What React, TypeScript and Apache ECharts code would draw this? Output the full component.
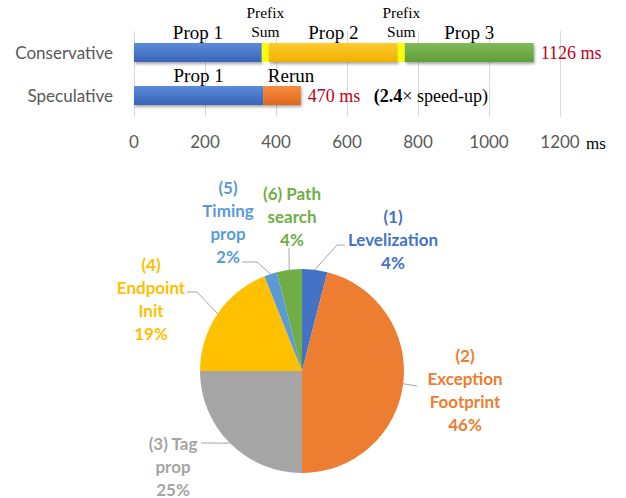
import React, { useEffect, useRef } from 'react';
import * as echarts from 'echarts';

// ---- Bar chart data ----
const barCategories = ['Conservative', 'Speculative'];
const prop1 = [360, 364];
const prefixSum1: (number | null)[] = [20, null];
const prop2: (number | null)[] = [363, null];
const prefixSum2: (number | null)[] = [20, null];
const prop3: (number | null)[] = [363, null];
const rerun: (number | null)[] = [null, 106];
const xMin = 0;
const xMax = 1200;
const xInterval = 200;
const xUnit = 'ms';

// ---- Pie chart data ----
const pieNames = [
  '(1)\nLevelization',
  '(2)\nException\nFootprint',
  '(3) Tag\nprop',
  '(4)\nEndpoint\nInit',
  '(5)\nTiming\nprop',
  '(6) Path\nsearch',
];
const pieValues = [4, 46, 25, 19, 2, 4];
const pieColors = ['#4472C4', '#ED7D31', '#A5A5A5', '#FFC000', '#5B9BD5', '#70AD47'];

// label placement (layout only)
const pieLabelLayout = [
  { x: 393, y: 239, line: [[337, 245], [345, 245]] },
  { x: 465, y: 390, line: [[417, 386]] },
  { x: 173, y: 466, line: [[201, 443]] },
  { x: 151, y: 299, line: [[197, 292], [187, 292]] },
  { x: 228, y: 222, line: [[257, 262], [242, 262]] },
  { x: 292, y: 216, line: [[289, 248]] },
];

const SERIF = '"Liberation Serif", "Times New Roman", serif';
const SANS = 'Lato, "Open Sans", sans-serif';

const grad = (top: string, bottom: string) =>
  new echarts.graphic.LinearGradient(0, 0, 0, 1, [
    { offset: 0, color: top },
    { offset: 1, color: bottom },
  ]);

const num = (v: number | null) => (v == null ? 0 : v);
const totals = barCategories.map(
  (_, i) =>
    num(prop1[i]) + num(prefixSum1[i]) + num(prop2[i]) + num(prefixSum2[i]) + num(prop3[i]) + num(rerun[i])
);

export default function App() {
  const ref = useRef<HTMLDivElement>(null);
  useEffect(() => {
    if (!ref.current) return;
    const chart = echarts.init(ref.current, undefined, { renderer: 'svg' });

    const shadow = {
      shadowColor: 'rgba(0,0,0,0.35)',
      shadowBlur: 3,
      shadowOffsetX: 1,
      shadowOffsetY: 2,
    };
    const nameLabel = (text: string, extra: any = {}) => ({
      show: true,
      position: 'top',
      distance: 1,
      formatter: (p: any) => (p.value == null || p.value === '-' ? '' : text),
      fontFamily: SERIF,
      fontSize: 19,
      lineHeight: 19,
      color: '#000',
      ...extra,
    });
    const prefixLabel = nameLabel('Prefix\nSum', { fontSize: 15.5, lineHeight: 19, distance: 2 });

    const barSeries: any[] = [
      {
        name: 'Prop 1',
        data: prop1,
        itemStyle: { color: grad('#5C8BD8', '#3864BA'), ...shadow },
        label: nameLabel('Prop 1'),
      },
      {
        name: 'Prefix Sum 1',
        data: prefixSum1,
        itemStyle: { color: '#FFFF00' },
        label: prefixLabel,
      },
      {
        name: 'Prop 2',
        data: prop2,
        itemStyle: { color: grad('#FFCB2E', '#EFB100'), ...shadow },
        label: nameLabel('Prop 2'),
      },
      {
        name: 'Prefix Sum 2',
        data: prefixSum2,
        itemStyle: { color: '#FFFF00' },
        label: prefixLabel,
      },
      {
        name: 'Prop 3',
        data: prop3,
        itemStyle: { color: grad('#80BB58', '#5F9D3A'), ...shadow },
        label: nameLabel('Prop 3'),
      },
      {
        name: 'Rerun',
        data: rerun,
        itemStyle: { color: grad('#F68C40', '#E0691E'), ...shadow },
        label: nameLabel('Rerun', { offset: [9, 0] }),
      },
      {
        name: 'Total',
        data: barCategories.map(() => 0),
        itemStyle: { color: 'transparent' },
        label: {
          show: true,
          position: 'right',
          distance: 7,
          formatter: (p: any) => {
            const i = p.dataIndex;
            const base = `{r|${totals[i]} ${xUnit}}`;
            if (i === 0) return base;
            const speed = (totals[0] / totals[i]).toFixed(1);
            return `${base}{n|   }{b|(${speed}}{n|× speed-up)}`;
          },
          rich: {
            r: { color: '#C00020', fontFamily: SERIF, fontSize: 18 },
            n: { color: '#000', fontFamily: SERIF, fontSize: 18 },
            b: { color: '#000', fontFamily: SERIF, fontSize: 18, fontWeight: 'bold' },
          },
        },
      },
    ].map((s) => ({
      ...s,
      type: 'bar',
      stack: 'time',
      barWidth: 19,
      xAxisIndex: 0,
      yAxisIndex: 0,
      silent: true,
    }));

    chart.setOption({
      animation: false,
      backgroundColor: '#fff',
      grid: [{ left: 134, width: 426, top: 31, height: 86 }],
      xAxis: [
        {
          type: 'value',
          min: xMin,
          max: xMax,
          interval: xInterval,
          axisLine: { show: false },
          axisTick: { show: false },
          axisLabel: {
            color: '#595959',
            fontSize: 17,
            fontFamily: SANS,
            margin: 16,
            formatter: (v: number) => String(v),
          },
          splitLine: { show: true, lineStyle: { color: '#D9D9D9', width: 1 } },
        },
      ],
      yAxis: [
        {
          type: 'category',
          data: barCategories,
          inverse: true,
          axisLine: { show: false },
          axisTick: { show: false },
          axisLabel: { color: '#595959', fontSize: 17, fontFamily: SANS, margin: 21 },
        },
      ],
      graphic: [
        {
          type: 'text',
          x: 586,
          y: 143,
          style: {
            text: xUnit,
            fontFamily: SERIF,
            fontSize: 17,
            fill: '#000',
            verticalAlign: 'middle',
          },
        },
      ],
      series: [
        ...barSeries,
        {
          type: 'pie',
          center: [302, 371],
          radius: 102,
          startAngle: 90,
          clockwise: true,
          silent: true,
          avoidLabelOverlap: false,
          data: pieNames.map((n, i) => ({
            name: n,
            value: pieValues[i],
            itemStyle: { color: pieColors[i] },
            label: { color: pieColors[i] },
          })),
          label: {
            show: true,
            position: 'outside',
            formatter: (p: any) => `${p.name}\n${p.value}%`,
            fontFamily: SANS,
            fontWeight: 'bold',
            fontSize: 17,
            lineHeight: 23,
            align: 'center',
          },
          labelLine: {
            show: true,
            length: 10,
            length2: 10,
            lineStyle: { color: '#A6A6A6', width: 1 },
          },
          labelLayout: (params: any) => {
            const cfg = pieLabelLayout[params.dataIndex];
            const start = params.labelLinePoints ? params.labelLinePoints[0] : null;
            const out: any = { x: cfg.x, y: cfg.y, align: 'center', verticalAlign: 'middle' };
            if (start) out.labelLinePoints = [start, ...cfg.line];
            return out;
          },
        },
      ],
    });
    return () => chart.dispose();
  }, []);
  return (
    <div
      ref={ref}
      style={{ position: 'fixed', left: 0, top: 0, width: 626, height: 498, background: '#fff' }}
    />
  );
}
